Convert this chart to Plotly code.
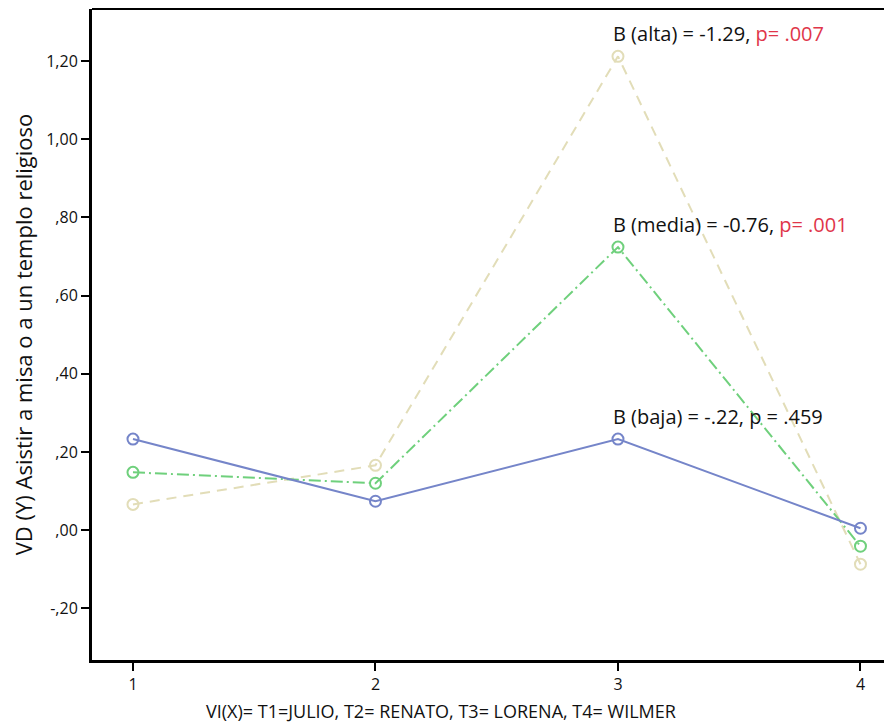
import plotly.graph_objects as go

x_vals = [1, 2, 3, 4]
baja = [0.233, 0.074, 0.233, 0.005]
media = [0.148, 0.120, 0.724, -0.041]
alta = [0.066, 0.166, 1.212, -0.087]

y_tickvals = [-0.2, 0.0, 0.2, 0.4, 0.6, 0.8, 1.0, 1.2]
y_ticktext = ["-,20", ",00", ",20", ",40", ",60", ",80", "1,00", "1,20"]

ann_labels = [
    ("B (alta) = -1.29, ", "p= .007", 3, 1.212, True),
    ("B (media) = -0.76, ", "p= .001", 3, 0.724, True),
    ("B (baja) = -.22, p = .459", "", 3, 0.233, False),
]

x_title = "VI(X)= T1=JULIO, T2= RENATO, T3= LORENA, T4= WILMER"
y_title = "VD (Y) Asistir a misa o a un templo religioso"

FONT = "Open Sans"
fig = go.Figure()

series = [
    ("alta", alta, "#e2ddb8", "10px,7px"),
    ("media", media, "#6fd07c", "12px,4px,2px,4px"),
    ("baja", baja, "#7585c9", "solid"),
]
for name, ys, col, dash in series:
    fig.add_trace(go.Scatter(
        x=x_vals, y=ys, mode="lines+markers", name=name,
        line=dict(color=col, width=2, dash=dash),
        marker=dict(symbol="circle-open", size=11, color=col, line=dict(width=2, color=col)),
        showlegend=False,
    ))

for black, red, xa, ya, has_red in ann_labels:
    txt = black + (f"<span style='color:#e0364a'>{red}</span>" if has_red else "")
    fig.add_annotation(x=xa, y=ya, xref="x", yref="y", text=txt, showarrow=False,
                       xanchor="left", yanchor="bottom", xshift=-7, yshift=7,
                       font=dict(family=FONT, size=20, color="#111111"))

fig.add_annotation(x=0.436, y=0, xref="paper", yref="paper", text=x_title, showarrow=False,
                   xanchor="center", yanchor="middle", yshift=-51, borderpad=0, borderwidth=0,
                   font=dict(family=FONT, size=18, color="#111111"))

fig.add_shape(type="line", xref="paper", yref="paper", x0=0, x1=1, y0=1, y1=1,
              line=dict(color="black", width=2))

fig.update_layout(
    width=884, height=718,
    margin=dict(l=84, r=0, t=1, b=66),
    plot_bgcolor="white", paper_bgcolor="white",
    font=dict(family=FONT, color="#111111"),
    xaxis=dict(range=[0.831, 4.13], tickvals=x_vals, ticktext=[str(v) for v in x_vals],
               showgrid=False, zeroline=False, showline=True, linecolor="black", linewidth=3,
               ticks="outside", ticklen=8, tickwidth=2, tickcolor="black",
               tickfont=dict(size=16, family=FONT)),
    yaxis=dict(range=[-0.332, 1.333], tickvals=y_tickvals, ticktext=y_ticktext,
               showgrid=False, zeroline=False, showline=True, linecolor="black", linewidth=3,
               ticks="outside", ticklen=8, tickwidth=1.5, tickcolor="black",
               tickfont=dict(size=16, family=FONT),
               title=dict(text=y_title, font=dict(size=22, family=FONT), standoff=8)),
)

fig.write_html("out.html")
